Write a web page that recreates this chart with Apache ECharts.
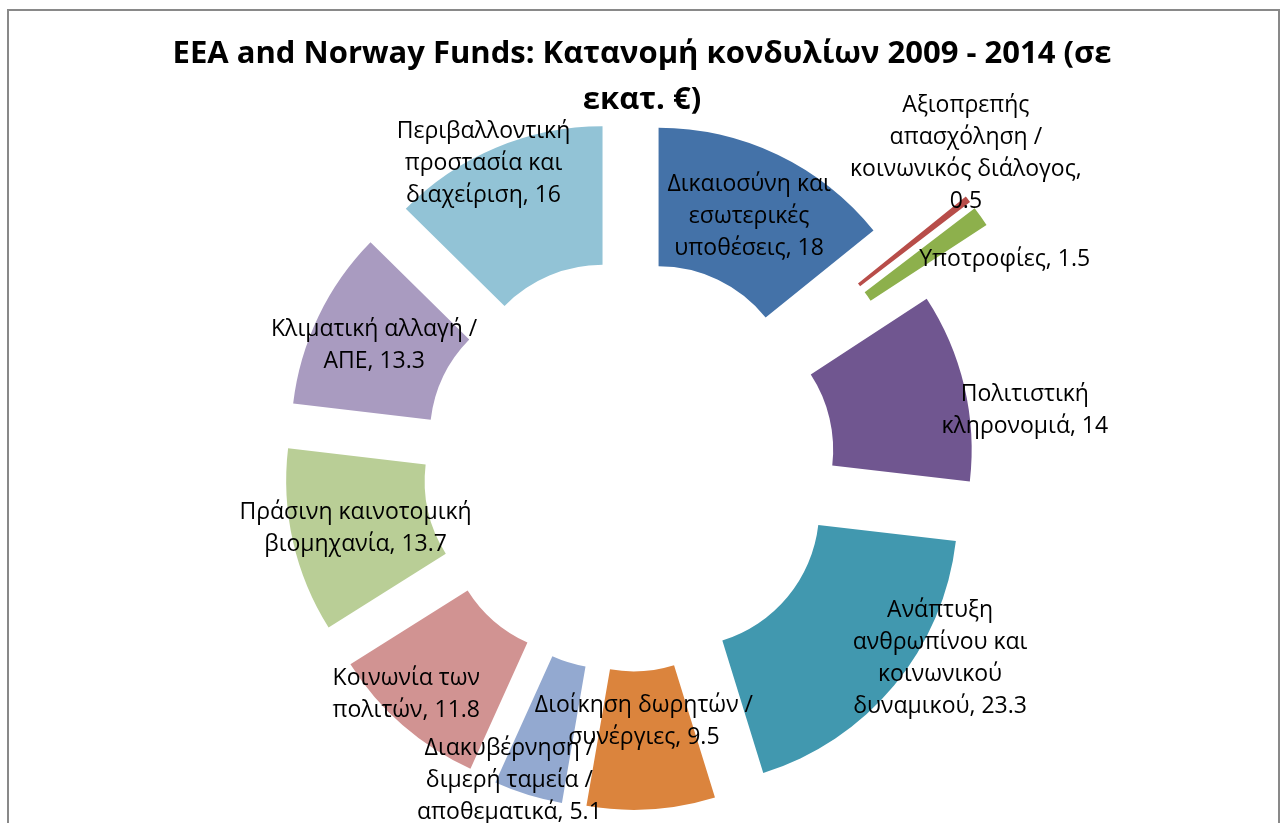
<!DOCTYPE html>
<html>
<head>
<meta charset="utf-8">
<title>EEA and Norway Funds</title>
<script src="https://cdn.jsdelivr.net/npm/echarts@6/dist/echarts.min.js"></script>
<style>
  html, body { margin: 0; padding: 0; background: #fff; }
  #chart { width: 1284px; height: 823px; }
</style>
</head>
<body>
<div id="chart"></div>
<script>
// categories as wrapped in the chart labels, values in million €
const categories = [
  'Δικαιοσύνη και\nεσωτερικές\nυποθέσεις',
  'Αξιοπρεπής\nαπασχόληση /\nκοινωνικός διάλογος',
  'Υποτροφίες',
  'Πολιτιστική\nκληρονομιά',
  'Ανάπτυξη\nανθρωπίνου και\nκοινωνικού\nδυναμικού',
  'Διοίκηση δωρητών /\nσυνέργιες',
  'Διακυβέρνηση /\nδιμερή ταμεία /\nαποθεματικά',
  'Κοινωνία των\nπολιτών',
  'Πράσινη καινοτομική\nβιομηχανία',
  'Κλιματική αλλαγή /\nΑΠΕ',
  'Περιβαλλοντική\nπροστασία και\nδιαχείριση'
];
const values = [18, 0.5, 1.5, 14, 23.3, 9.5, 5.1, 11.8, 13.7, 13.3, 16];
const valueOnOwnLine = [1];

const colors = ['#4472A8', '#B84D49', '#8DB04C', '#705690', '#4198AF', '#DB843D',
                '#93A9D0', '#D19392', '#B9CE96', '#A99BC0', '#92C3D6'];

// doughnut geometry (px)
const CX = 629, CY = 465.5, R_IN = 137.5, R_OUT = 276;
// how far each slice is pulled out from the centre
const explode = [68.5, 155, 155, 68.5, 68.5, 68.5, 68.5, 68.5, 68.5, 68.5, 68.5];
// extra label shift from the middle of its slice
const labelNudge = [[0, 2], [50, -87], [78, 5], [125, 9], [97, 15], [-3, -22],
                    [-38, 49], [-40, 19], [-2, 2], [-4, 0], [-38, -45]];

const FONT = 'Open Sans';

const total = values.reduce((a, b) => a + b, 0);
const midAngles = [];
let acc = 0;
values.forEach(v => {
  midAngles.push((acc + v / 2) / total * 2 * Math.PI);
  acc += v;
});

const sliceSeries = values.map((v, i) => ({
  type: 'pie',
  z: 2,
  silent: true,
  center: [CX + explode[i] * Math.sin(midAngles[i]), CY - explode[i] * Math.cos(midAngles[i])],
  radius: [R_IN, R_OUT],
  startAngle: 90,
  clockwise: true,
  label: { show: false },
  labelLine: { show: false },
  emphasis: { disabled: true },
  itemStyle: { borderWidth: 0 },
  data: values.map((val, j) => ({
    name: categories[j],
    value: val,
    itemStyle: { color: j === i ? colors[i] : 'rgba(0,0,0,0)' }
  }))
}));

const labelSeries = {
  type: 'pie',
  z: 5,
  silent: true,
  center: [CX, CY],
  radius: [R_IN, R_OUT],
  startAngle: 90,
  clockwise: true,
  emphasis: { disabled: true },
  itemStyle: { color: 'rgba(0,0,0,0)', borderWidth: 0 },
  label: {
    show: true,
    position: 'inside',
    color: '#000',
    fontFamily: FONT,
    fontSize: 23,
    lineHeight: 32,
    align: 'center',
    formatter: p => p.name + (valueOnOwnLine.includes(p.dataIndex) ? ',\n' : ', ') + p.value
  },
  labelLine: { show: false },
  labelLayout: p => {
    const i = p.dataIndex;
    return {
      dx: explode[i] * Math.sin(midAngles[i]) + labelNudge[i][0],
      dy: -explode[i] * Math.cos(midAngles[i]) + labelNudge[i][1],
      hideOverlap: false
    };
  },
  data: values.map((v, j) => ({ name: categories[j], value: v }))
};

const chart = echarts.init(document.getElementById('chart'));
chart.setOption({
  animation: false,
  backgroundColor: '#fff',
  title: {
    text: 'EEA and Norway Funds: Κατανομή κονδυλίων 2009 - 2014 (σε\nεκατ. €)',
    left: 'center',
    top: 31,
    padding: 0,
    textStyle: {
      fontFamily: FONT,
      fontWeight: 'bold',
      fontSize: 31,
      lineHeight: 46,
      color: '#000'
    }
  },
  graphic: [{
    type: 'rect',
    silent: true,
    shape: { x: 8, y: 10, width: 1271, height: 830 },
    style: { fill: 'none', stroke: '#898989', lineWidth: 2 }
  }],
  series: sliceSeries.concat([labelSeries])
});
</script>
</body>
</html>
